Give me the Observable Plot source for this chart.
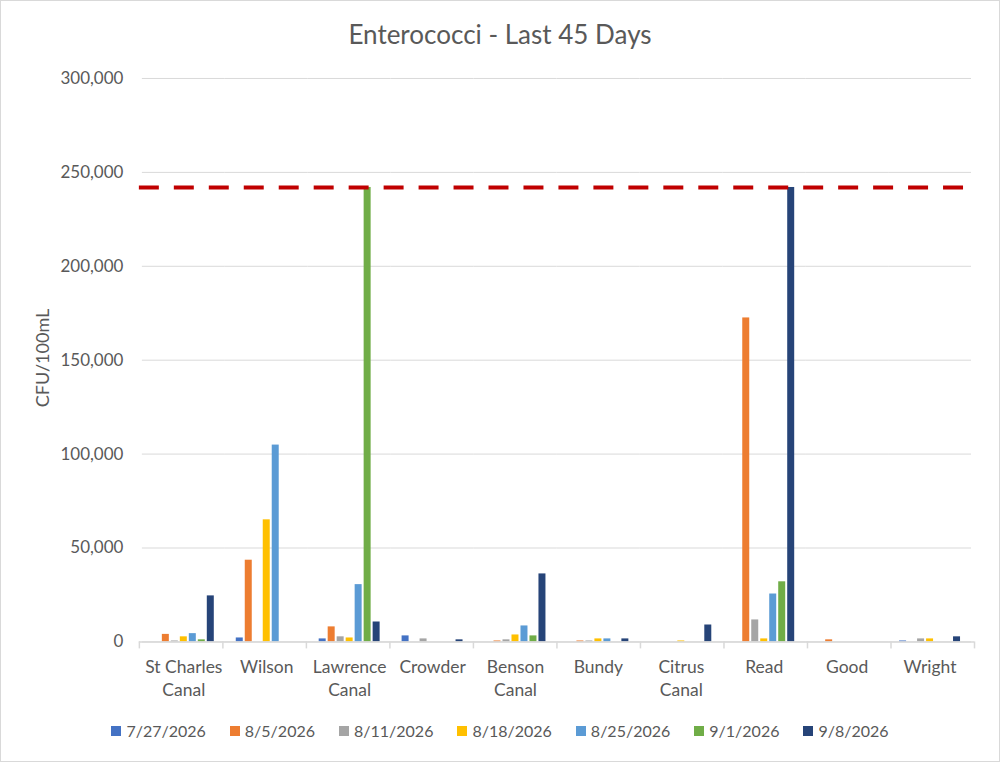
<!DOCTYPE html>
<html>
<head>
<meta charset="utf-8">
<script src="https://cdn.jsdelivr.net/npm/d3@7"></script>
<script src="https://cdn.jsdelivr.net/npm/@observablehq/plot@0.6"></script>
<style>
  html, body { margin: 0; padding: 0; background: #fff; }
  #chart { position: relative; width: 1000px; height: 762px; box-sizing: border-box; border: 1px solid #d9d9d9; background: #fff; font-family: Lato, "Open Sans", sans-serif; color: #595959; overflow: hidden; }
  #title { position: absolute; left: 0; top: 18px; width: 100%; text-align: center; font-size: 26px; line-height: 30px; color: #595959; }
  .layer { position: absolute; left: -1px; top: 54px; }
  #ylabel { position: absolute; left: 41px; top: 357px; transform: translate(-50%, -50%) rotate(-90deg); font-size: 18px; line-height: 20px; white-space: nowrap; color: #595959; }
  #legend { position: absolute; left: 0; top: 719px; width: 100%; display: flex; justify-content: center; gap: 24px; font-size: 16px; line-height: 22px; color: #595959; }
  .item { display: flex; align-items: center; gap: 5px; }
  .sw { width: 10px; height: 10px; display: inline-block; }
</style>
</head>
<body>
<div id="chart">
  <div id="title">Enterococci - Last 45 Days</div>
  <div id="main" class="layer"></div>
  <div id="over" class="layer"></div>
  <div id="ylabel"></div>
  <div id="legend"></div>
</div>
<script>
const categories = ["St Charles Canal", "Wilson", "Lawrence Canal", "Crowder", "Benson Canal", "Bundy", "Citrus Canal", "Read", "Good", "Wright"];
const categoryLabels = ["St Charles\nCanal", "Wilson", "Lawrence\nCanal", "Crowder", "Benson\nCanal", "Bundy", "Citrus\nCanal", "Read", "Good", "Wright"];
const dates = ["7/27/2026", "8/5/2026", "8/11/2026", "8/18/2026", "8/25/2026", "9/1/2026", "9/8/2026"];
const colors = ["#4472C4", "#ED7D31", "#A5A5A5", "#FFC000", "#5B9BD5", "#70AD47", "#264478"];

const v0727 = [0, 2100, 1600, 3200, 0, 0, 0, 0, 0, 500];
const v0805 = [4000, 43500, 8000, 0, 500, 500, 0, 172500, 1100, 0];
const v0811 = [500, 0, 2700, 1600, 1100, 500, 0, 11700, 0, 1600];
const v0818 = [2700, 65000, 2100, 0, 3700, 1600, 500, 1600, 0, 1600];
const v0825 = [4400, 104800, 30500, 0, 8500, 1600, 0, 25500, 0, 0];
const v0901 = [1100, 0, 241960, 0, 3200, 0, 0, 32000, 0, 0];
const v0908 = [24500, 0, 10600, 1100, 36200, 1600, 9000, 241960, 0, 2700];
const series = [v0727, v0805, v0811, v0818, v0825, v0901, v0908];

const yTicks = [0, 50000, 100000, 150000, 200000, 250000, 300000];
const threshold = 241960;
const yLabel = "CFU/100mL";

const rows = dates.flatMap((d, i) => categories.map((c, j) => ({category: c, date: d, value: series[i][j]}))).filter(r => r.value > 0);
const labelOf = new Map(categories.map((c, i) => [c, categoryLabels[i]]));

const W = 1000, H = 646, ML = 139, MR = 25, MT = 23, MB = 59;
const font = "Lato, 'Open Sans', sans-serif";

const main = Plot.plot({
  width: W, height: H,
  marginLeft: ML, marginRight: MR, marginTop: MT, marginBottom: MB,
  style: {fontFamily: font, fontSize: "16px", color: "#595959", background: "transparent"},
  fx: {domain: categories, padding: 0, label: null},
  x: {domain: dates, paddingInner: 0.18, paddingOuter: 0.855, axis: null},
  y: {domain: [0, 300000], label: null},
  color: {domain: dates, range: colors},
  marks: [
    Plot.gridY(yTicks, {stroke: "#d9d9d9", strokeOpacity: 1, strokeWidth: 1}),
    Plot.barY(rows, {fx: "category", x: "date", y: "value", fill: "date"}),
    Plot.axisY(yTicks, {tickSize: 0, tickPadding: 19, tickFormat: d3.format(","), fontSize: 17, color: "#595959", label: null}),
    Plot.axisFx({anchor: "bottom", tickSize: 0, tickPadding: 15, fontSize: 17.5, lineHeight: 1.31, color: "#595959", label: null, tickFormat: c => labelOf.get(c)})
  ]
});
document.getElementById("main").append(main);

const over = Plot.plot({
  width: W, height: H,
  marginLeft: ML, marginRight: MR, marginTop: MT, marginBottom: MB,
  style: {fontFamily: font, fontSize: "16px", color: "#595959", background: "transparent"},
  x: {domain: [0, categories.length], axis: null},
  y: {domain: [0, 300000], axis: null},
  marks: [
    Plot.ruleY([0], {stroke: "#d9d9d9", strokeWidth: 1.5}),
    Plot.axisX(d3.range(categories.length + 1), {tickSize: 7, tickFormat: () => "", color: "#d9d9d9", strokeWidth: 1.5, label: null}),
    Plot.ruleY([threshold], {stroke: "#C00000", strokeWidth: 4, strokeDasharray: "20,15"})
  ]
});
document.getElementById("over").append(over);

document.getElementById("ylabel").textContent = yLabel;

const legend = document.getElementById("legend");
dates.forEach((d, i) => {
  const it = document.createElement("div");
  it.className = "item";
  const sw = document.createElement("span");
  sw.className = "sw";
  sw.style.background = colors[i];
  const t = document.createElement("span");
  t.textContent = d;
  it.append(sw, t);
  legend.append(it);
});
</script>
</body>
</html>
